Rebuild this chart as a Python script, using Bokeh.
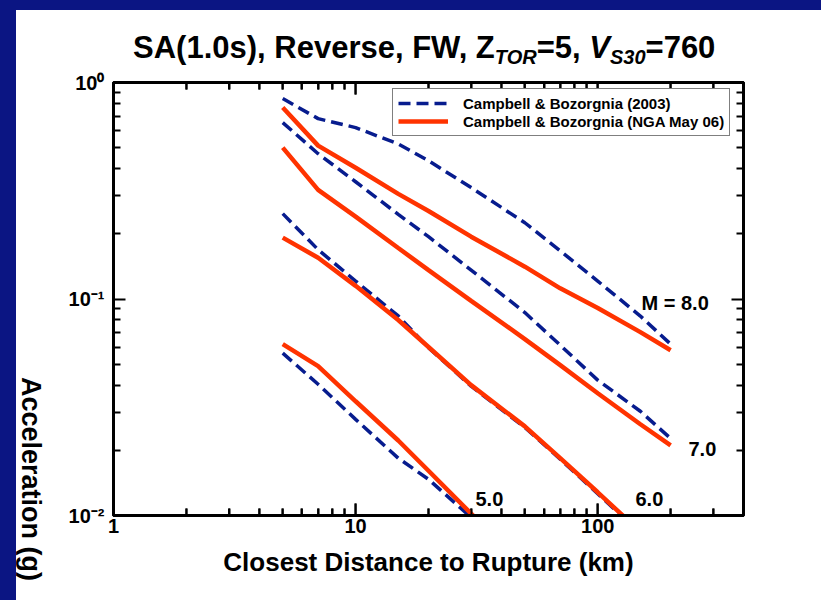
import math
from bokeh.plotting import figure
from bokeh.models import (Range1d, LogAxis, FixedTicker, Label, Legend,
                          LegendItem, Column, Row, Div, PrintfTickFormatter)
from bokeh.embed import file_html
from bokeh.resources import INLINE

NAN = float("nan")

# ---------------- data ----------------
DIST = [5, 7, 10, 15, 20, 30, 50, 70, 100, 150, 200]

# Campbell & Bozorgnia (2003) - dashed
CB03_M5 = [0.0562, 0.0404, 0.0278, 0.0184, 0.0147, 0.0098, 0.0055, NAN, NAN, NAN, NAN]
CB03_M6 = [0.248, 0.169, 0.121, 0.0835, 0.0595, 0.0396, 0.0255, 0.0182, 0.0126, 0.0083, NAN]
CB03_M7 = [0.653, 0.469, 0.348, 0.246, 0.194, 0.136, 0.0866, 0.0612, 0.0422, 0.0303, 0.0227]
CB03_M8 = [0.843, 0.681, 0.619, 0.520, 0.435, 0.327, 0.225, 0.167, 0.121, 0.0834, 0.0619]

# Campbell & Bozorgnia (NGA May 06) - solid
NGA_M5 = [0.0619, 0.0490, 0.0337, 0.0222, 0.0161, 0.0102, 0.0058, NAN, NAN, NAN, NAN]
NGA_M6 = [0.192, 0.155, 0.115, 0.080, 0.060, 0.040, 0.0258, 0.0184, 0.0128, 0.0084, NAN]
NGA_M7 = [0.500, 0.319, 0.240, 0.172, 0.136, 0.098, 0.0653, 0.0495, 0.0367, 0.0264, 0.0211]
NGA_M8 = [0.766, 0.511, 0.404, 0.306, 0.255, 0.194, 0.141, 0.112, 0.0908, 0.0703, 0.058]

SERIES_NAMES = ["Campbell & Bozorgnia (2003)", "Campbell & Bozorgnia (NGA May 06)"]
MAG_LABELS = ["5.0", "6.0", "7.0", "M = 8.0"]

X_MAJOR = [1.0, 10.0, 100.0]
X_MINOR = [2.0, 3.0, 4.0, 5.0, 6.0, 7.0, 8.0, 9.0, 20.0, 30.0, 40.0, 50.0, 60.0, 70.0,
           80.0, 90.0, 200.0, 300.0, 400.0]
Y_MAJOR = [0.01, 0.1, 1.0]
Y_MINOR = [0.02, 0.03, 0.04, 0.05, 0.06, 0.07, 0.08, 0.09,
           0.2, 0.3, 0.4, 0.5, 0.6, 0.7, 0.8, 0.9]
Y_TICK_LABELS = ["10\u207b\u00b2", "10\u207b\u00b9", "10\u2070"]

Y_TITLE = "Acceleration (g)"
X_TITLE = "Closest Distance to Rupture (km)"

# ---------------- styling ----------------
NAVY = "#0b1583"
BLUE = "#071c8e"
RED = "#ff3300"
FONT = "Liberation Sans, Arial, Helvetica, sans-serif"
CSS_FONT = "'Liberation Sans', Arial, Helvetica, sans-serif"

BAND_L, BAND_T = 16, 10                 # navy page bands
TITLE_H = 60                            # title strip: page y 10..70
YLAB_W = 34                             # y-title strip: page x 16..50
FL, FR, FT, FB = 113, 743, 82, 515      # plot frame in page coordinates
MAIN_X0, MAIN_Y0 = BAND_L + YLAB_W, BAND_T + TITLE_H
MAIN_W, MAIN_H = 821 - MAIN_X0, 600 - MAIN_Y0
MAJ_TICK, MIN_TICK = 12, 7
X_LO, X_HI = 1.0, 400.0
PX_PER_DECADE_Y = (FB - FT) / 2.0                       # two decades tall
PX_PER_DECADE_X = (FR - FL) / math.log10(X_HI / X_LO)

# ---------------- title (rich text) ----------------
SUB = "font-size:20px;font-style:italic;vertical-align:-6px;"
title_html = (
    f'<div style="position:relative;left:117px;top:22px;white-space:nowrap;'
    f'font-family:{CSS_FONT};font-weight:bold;font-size:31px;line-height:31px;color:#000;">'
    f'SA(1.0s), Reverse, FW, Z<span style="{SUB}">TOR</span>=5, '
    f'<i>V</i><span style="{SUB}">S30</span>=760</div>')
tdiv = Div(text=title_html, width=821 - BAND_L, height=TITLE_H, margin=0,
           styles={"background-color": "white", "overflow": "hidden"})

# ---------------- y title (reads top to bottom) ----------------
ylab_html = (
    f'<div style="position:relative;left:1px;top:307px;writing-mode:vertical-rl;'
    f'white-space:nowrap;font-family:{CSS_FONT};font-weight:bold;font-size:27px;'
    f'line-height:27px;color:#000;">{Y_TITLE}</div>')
ydiv = Div(text=ylab_html, width=YLAB_W, height=MAIN_H, margin=0,
           styles={"background-color": "white", "overflow": "hidden"})

# ---------------- main plot ----------------
p = figure(width=MAIN_W, height=MAIN_H, x_axis_type="log", y_axis_type="log",
           x_range=Range1d(X_LO, X_HI), y_range=Range1d(0.01, 1.0),
           output_backend="svg", toolbar_location=None,
           min_border_left=FL - MAIN_X0, min_border_right=821 - FR,
           min_border_top=FT - MAIN_Y0, min_border_bottom=600 - FB,
           background_fill_color="white", border_fill_color="white",
           outline_line_color="black", outline_line_width=3)
p.margin = 0
p.grid.visible = False


def style_axis(ax, show_labels):
    ax.axis_line_width = 3
    ax.axis_line_color = "black"
    ax.major_tick_in = MAJ_TICK
    ax.major_tick_out = 0
    ax.minor_tick_in = MIN_TICK
    ax.minor_tick_out = 0
    ax.major_tick_line_width = 2
    ax.minor_tick_line_width = 2
    ax.major_tick_line_color = "black"
    ax.minor_tick_line_color = "black"
    ax.major_label_text_font = FONT
    ax.major_label_text_font_style = "bold"
    if show_labels:
        ax.major_label_text_font_size = "20px"
        ax.major_label_text_color = "black"
    else:
        ax.major_label_text_color = None
        ax.major_label_text_font_size = "1px"
        ax.major_label_standoff = 0


xb = p.xaxis[0]
xb.ticker = FixedTicker(ticks=X_MAJOR, minor_ticks=X_MINOR)
style_axis(xb, True)
xb.formatter = PrintfTickFormatter(format="%d")
xb.major_label_standoff = 3
xb.axis_label = X_TITLE
xb.axis_label_text_font = FONT
xb.axis_label_text_font_style = "bold"
xb.axis_label_text_font_size = "26px"
xb.axis_label_text_color = "black"
xb.axis_label_standoff = 11

yl = p.yaxis[0]
yl.ticker = FixedTicker(ticks=Y_MAJOR, minor_ticks=Y_MINOR)
style_axis(yl, True)
yl.major_label_overrides = {v: t for v, t in zip(Y_MAJOR, Y_TICK_LABELS)}
yl.major_label_standoff = 9

xtop = LogAxis(ticker=FixedTicker(ticks=X_MAJOR, minor_ticks=X_MINOR))
style_axis(xtop, False)
p.add_layout(xtop, "above")
yr = LogAxis(ticker=FixedTicker(ticks=Y_MAJOR, minor_ticks=Y_MINOR))
style_axis(yr, False)
p.add_layout(yr, "right")

# inward tick marks along the bottom and top frame edges, drawn as thin
# filled bars (2 px wide) so they show in the SVG output
gx = 10 ** (1.0 / PX_PER_DECADE_X)
lo, hi = Y_MAJOR[0], Y_MAJOR[-1]
for ticks, length in ((X_MAJOR, MAJ_TICK), (X_MINOR, MIN_TICK)):
    f = 10 ** (length / PX_PER_DECADE_Y)
    left = [t / gx for t in ticks]
    right = [t * gx for t in ticks]
    p.quad(left=left, right=right, bottom=[lo] * len(ticks), top=[lo * f] * len(ticks),
           fill_color="black", line_color=None)
    p.quad(left=left, right=right, bottom=[hi / f] * len(ticks), top=[hi] * len(ticks),
           fill_color="black", line_color=None)

blue_r = p.multi_line(xs=[DIST] * 4, ys=[CB03_M5, CB03_M6, CB03_M7, CB03_M8],
                      line_color=BLUE, line_width=3.5, line_dash="12 6")
red_r = p.multi_line(xs=[DIST] * 4, ys=[NGA_M5, NGA_M6, NGA_M7, NGA_M8],
                     line_color=RED, line_width=4.5)

legend = Legend(items=[LegendItem(label=SERIES_NAMES[0], renderers=[blue_r]),
                       LegendItem(label=SERIES_NAMES[1], renderers=[red_r])],
                location=(392 - FL, FB - 136),
                label_text_font=FONT, label_text_font_style="bold",
                label_text_font_size="15px", label_text_color="black",
                glyph_width=50, glyph_height=18, label_height=18,
                label_standoff=15, padding=5, spacing=0, margin=0,
                border_line_color="black", border_line_width=1,
                background_fill_color="white", background_fill_alpha=1)
p.add_layout(legend)

for (x, y), t in zip([(475, 498), (635, 498), (688, 448), (641, 302)], MAG_LABELS):
    p.add_layout(Label(x=x - FL, y=FB - y, x_units="screen", y_units="screen",
                       text=t, text_font=FONT, text_font_size="20px",
                       text_font_style="bold", text_align="left",
                       text_baseline="alphabetic", text_color="black"))

# ---------------- page layout with navy bands ----------------
top_band = Div(text="", width=821, height=BAND_T, margin=0,
               styles={"background-color": NAVY})
left_band = Div(text="", width=BAND_L, height=600 - BAND_T, margin=0,
                styles={"background-color": NAVY})
content = Column(children=[tdiv, Row(children=[ydiv, p], margin=0, spacing=0)],
                 margin=0, spacing=0)
layout = Column(children=[top_band, Row(children=[left_band, content], margin=0, spacing=0)],
                width=821, height=600, margin=0, spacing=0,
                styles={"background-color": "white"})

open("out.html", "w").write(file_html(layout, INLINE))
